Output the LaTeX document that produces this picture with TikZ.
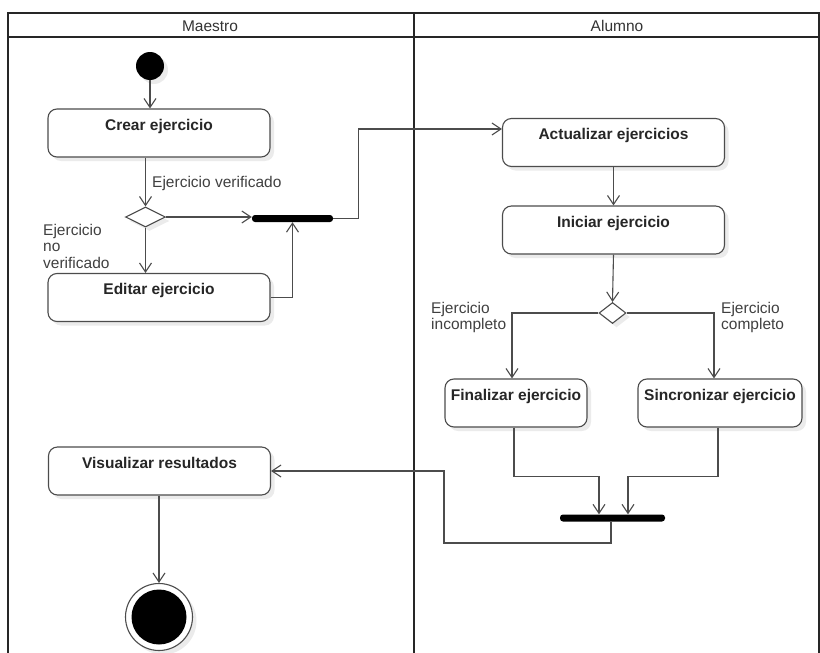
\documentclass[tikz,border=0pt]{standalone}
\usepackage{fontspec}
\setmainfont{Liberation Sans}
\usepackage{tikz}
\usetikzlibrary{arrows.meta,shapes.geometric,shadows}

\tikzset{
  line/.style={draw=black!70, line width=1.1pt},
  flow/.style={line, -{Straight Barb[length=9pt,width=12pt,line width=1.1pt]}},
  shade/.style={drop shadow={shadow xshift=4pt, shadow yshift=-4pt, fill=black!8, opacity=1}},
  act/.style={draw=black!70, line width=1.1pt, rounded corners=9pt, fill=white, shade,
    minimum width=222pt, inner xsep=2pt, inner ysep=3pt, text height=18pt, text depth=24pt,
    font=\fontsize{15.5}{18}\selectfont\bfseries, text=black!85},
  decision/.style={diamond, draw=black!70, line width=1.1pt, fill=white, shade,
    minimum width=40pt, minimum height=20pt, inner sep=0pt},
  bar/.style={fill=black, rounded corners=3pt, minimum height=7pt, inner sep=0pt},
  guard/.style={font=\fontsize{15.5}{16.5}\selectfont, text=black!75, align=left, inner sep=0pt},
  lane/.style={font=\fontsize{15.5}{18}\selectfont, text=black!80}
}

\begin{document}
\begin{tikzpicture}[x=1pt,y=-1pt]
  \useasboundingbox (0,0) rectangle (820,653);

  % swimlanes
  \draw[line, draw=black!85] (8,653) -- (8,13) -- (819,13) -- (819,653);
  \draw[line, draw=black!85] (8,37) -- (819,37);
  \draw[line, draw=black!85] (414,13) -- (414,653);
  \node[lane] (maestro) at (210,26) {Maestro};
  \node[lane] (alumno) at (617,26) {Alumno};

  % Maestro
  \node[circle, fill=black, minimum size=28pt, inner sep=0pt, shade] (start) at (150,66) {};
  \node[act] (crear) at (159,133) {Crear ejercicio};
  \node[decision] (d1) at (145.5,217) {};
  \node[act] (editar) at (159,297.5) {Editar ejercicio};
  \node[bar, minimum width=81pt] (bar1) at (292.5,218.5) {};
  \node[act] (visual) at (159.5,471) {Visualizar resultados};
  \node[circle, draw=black!70, line width=1.1pt, fill=white, shade, minimum size=67pt, inner sep=0pt] (stop) at (159,617) {};
  \node[circle, fill=black, minimum size=55pt, inner sep=0pt] (stopin) at (stop) {};

  \node[guard, anchor=west] (lverif) at (152,183) {Ejercicio verificado};
  \node[guard, anchor=north west] (lnoverif) at (43,224) {Ejercicio\\no\\verificado};

  % Alumno
  \node[act] (actual) at (613.5,142.5) {Actualizar ejercicios};
  \node[act] (iniciar) at (613.5,230) {Iniciar ejercicio};
  \node[decision, minimum width=27pt, minimum height=21pt] (d2) at (612.5,313) {};
  \node[act, minimum width=142pt] (fin) at (516,403) {Finalizar ejercicio};
  \node[act, minimum width=164pt] (sinc) at (720,403) {Sincronizar ejercicio};
  \node[bar, minimum width=105pt] (bar2) at (612.5,518) {};

  \node[guard, anchor=north west] (lincomp) at (431,302) {Ejercicio\\incompleto};
  \node[guard, anchor=north west] (lcomp) at (721,302) {Ejercicio\\completo};

  \coordinate (ret) at (444,543);

  % flows
  \draw[flow] (start) -- (start |- crear.north);
  \draw[flow] (d1 |- crear.south) -- (d1.north);
  \draw[flow] (d1.south) -- (d1 |- editar.north);
  \draw[flow] (d1.east) -- (d1.east -| bar1.west);
  \draw[flow] (editar.east) -| (bar1.south);
  \draw[flow] (bar1.east) -- ++(25,0) |- ([yshift=13.5pt]actual.west);
  \draw[flow] (actual.south) -- (iniciar.north);
  \draw[flow] (iniciar.south) -- (d2.north);
  \draw[flow] (d2.west) -| ([xshift=-4pt]fin.north);
  \draw[flow] (d2.east) -| ([xshift=-6pt]sinc.north);
  \draw[flow] ([xshift=-2pt]fin.south) -- ++(0,49) -| ([xshift=-13.5pt]bar2.north);
  \draw[flow] ([xshift=-2pt]sinc.south) -- ++(0,49) -| ([xshift=15.5pt]bar2.north);
  \draw[flow] ([xshift=-1.5pt]bar2.south) |- (ret) |- (visual.east);
  \draw[flow] (stop |- visual.south) -- (stop.north);
\end{tikzpicture}
\end{document}
